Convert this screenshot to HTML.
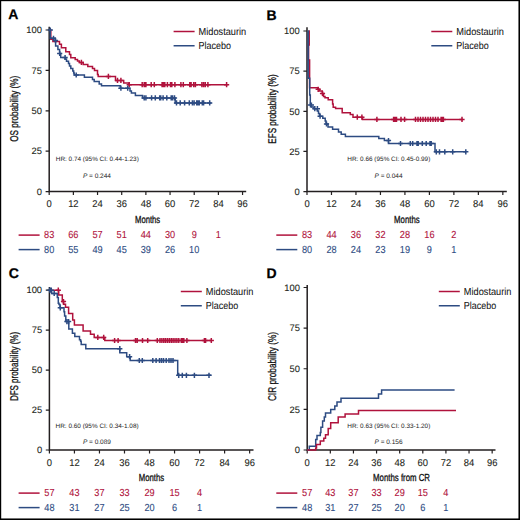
<!DOCTYPE html><html><head><meta charset="utf-8"><style>html,body{margin:0;padding:0;background:#fff;}svg{display:block;}text{font-family:"Liberation Sans",sans-serif;text-rendering:geometricPrecision;}</style></head><body>
<svg width="520" height="520" viewBox="0 0 520 520">
<rect x="0" y="0" width="520" height="520" fill="#fff"/>
<text x="8.3" y="19" font-size="14" text-anchor="start" fill="#000" font-weight="bold" font-style="normal" stroke="#000" stroke-width="0.25">A</text>
<path d="M49.2,26.8 V191.6 H246.2" fill="none" stroke="#231f20" stroke-width="1.5"/>
<text transform="translate(41.900000000000006 194.80) scale(1.0 1)" font-size="9.4" text-anchor="end" fill="#231f20" font-weight="normal" font-style="normal" stroke="#231f20" stroke-width="0.1">0</text>
<text transform="translate(41.900000000000006 154.40) scale(1.0 1)" font-size="9.4" text-anchor="end" fill="#231f20" font-weight="normal" font-style="normal" stroke="#231f20" stroke-width="0.1">25</text>
<text transform="translate(41.900000000000006 114.00) scale(1.0 1)" font-size="9.4" text-anchor="end" fill="#231f20" font-weight="normal" font-style="normal" stroke="#231f20" stroke-width="0.1">50</text>
<text transform="translate(41.900000000000006 73.60) scale(1.0 1)" font-size="9.4" text-anchor="end" fill="#231f20" font-weight="normal" font-style="normal" stroke="#231f20" stroke-width="0.1">75</text>
<text transform="translate(41.900000000000006 33.20) scale(1.0 1)" font-size="9.4" text-anchor="end" fill="#231f20" font-weight="normal" font-style="normal" stroke="#231f20" stroke-width="0.1">100</text>
<text transform="translate(49.20 207.3) scale(0.96 1)" font-size="9.8" text-anchor="middle" fill="#231f20" font-weight="normal" font-style="normal" stroke="#231f20" stroke-width="0.1">0</text>
<text transform="translate(73.37 207.3) scale(0.96 1)" font-size="9.8" text-anchor="middle" fill="#231f20" font-weight="normal" font-style="normal" stroke="#231f20" stroke-width="0.1">12</text>
<text transform="translate(97.54 207.3) scale(0.96 1)" font-size="9.8" text-anchor="middle" fill="#231f20" font-weight="normal" font-style="normal" stroke="#231f20" stroke-width="0.1">24</text>
<text transform="translate(121.71 207.3) scale(0.96 1)" font-size="9.8" text-anchor="middle" fill="#231f20" font-weight="normal" font-style="normal" stroke="#231f20" stroke-width="0.1">36</text>
<text transform="translate(145.88 207.3) scale(0.96 1)" font-size="9.8" text-anchor="middle" fill="#231f20" font-weight="normal" font-style="normal" stroke="#231f20" stroke-width="0.1">48</text>
<text transform="translate(170.05 207.3) scale(0.96 1)" font-size="9.8" text-anchor="middle" fill="#231f20" font-weight="normal" font-style="normal" stroke="#231f20" stroke-width="0.1">60</text>
<text transform="translate(194.22 207.3) scale(0.96 1)" font-size="9.8" text-anchor="middle" fill="#231f20" font-weight="normal" font-style="normal" stroke="#231f20" stroke-width="0.1">72</text>
<text transform="translate(218.39 207.3) scale(0.96 1)" font-size="9.8" text-anchor="middle" fill="#231f20" font-weight="normal" font-style="normal" stroke="#231f20" stroke-width="0.1">84</text>
<text transform="translate(242.56 207.3) scale(0.96 1)" font-size="9.8" text-anchor="middle" fill="#231f20" font-weight="normal" font-style="normal" stroke="#231f20" stroke-width="0.1">96</text>
<path d="M45.6,191.60H49.2 M45.6,151.20H49.2 M45.6,110.80H49.2 M45.6,70.40H49.2 M45.6,30.00H49.2 M49.20,191.6V195.1 M73.37,191.6V195.1 M97.54,191.6V195.1 M121.71,191.6V195.1 M145.88,191.6V195.1 M170.05,191.6V195.1 M194.22,191.6V195.1 M218.39,191.6V195.1 M242.56,191.6V195.1" fill="none" stroke="#231f20" stroke-width="1.2"/>
<text x="135" y="223.0" font-size="10.2" text-anchor="start" fill="#111" font-weight="normal" font-style="normal" textLength="25.2" lengthAdjust="spacingAndGlyphs" stroke="#111" stroke-width="0.3">Months</text>
<g transform="translate(18.10 108.8) rotate(-90)">
<text x="0" y="0" font-size="11.2" text-anchor="middle" fill="#111" font-weight="normal" font-style="normal" textLength="66" lengthAdjust="spacingAndGlyphs" stroke="#111" stroke-width="0.3">OS probability (%)</text>
</g>
<path d="M173.6,31.5h21" stroke="#b0123c" stroke-width="1.5"/>
<path d="M173.6,45.75h21" stroke="#2d4b82" stroke-width="1.5"/>
<text transform="translate(198.6 35.1) scale(0.895 1)" font-size="10.3" text-anchor="start" fill="#111" font-weight="normal" font-style="normal" stroke="#111" stroke-width="0.05">Midostaurin</text>
<text transform="translate(198.6 49.35) scale(0.87 1)" font-size="10.3" text-anchor="start" fill="#111" font-weight="normal" font-style="normal" stroke="#111" stroke-width="0.05">Placebo</text>
<text x="55.8" y="160.6" font-size="6.3" text-anchor="start" fill="#222" font-weight="normal" font-style="normal" textLength="83" lengthAdjust="spacingAndGlyphs">HR: 0.74 (95% CI: 0.44-1.23)</text>
<text x="82.9" y="177.7" font-size="6.5" fill="#222"><tspan font-style="italic">P</tspan> = 0.244</text>
<path d="M18.6,235.1h21" stroke="#b0123c" stroke-width="1.5"/>
<path d="M18.6,249.6h21" stroke="#2d4b82" stroke-width="1.5"/>
<text transform="translate(49.20 238.1) scale(0.9 1)" font-size="10.2" text-anchor="middle" fill="#b0123c" font-weight="normal" font-style="normal" stroke="#b0123c" stroke-width="0.1">83</text>
<text transform="translate(73.37 238.1) scale(0.9 1)" font-size="10.2" text-anchor="middle" fill="#b0123c" font-weight="normal" font-style="normal" stroke="#b0123c" stroke-width="0.1">66</text>
<text transform="translate(97.54 238.1) scale(0.9 1)" font-size="10.2" text-anchor="middle" fill="#b0123c" font-weight="normal" font-style="normal" stroke="#b0123c" stroke-width="0.1">57</text>
<text transform="translate(121.71 238.1) scale(0.9 1)" font-size="10.2" text-anchor="middle" fill="#b0123c" font-weight="normal" font-style="normal" stroke="#b0123c" stroke-width="0.1">51</text>
<text transform="translate(145.88 238.1) scale(0.9 1)" font-size="10.2" text-anchor="middle" fill="#b0123c" font-weight="normal" font-style="normal" stroke="#b0123c" stroke-width="0.1">44</text>
<text transform="translate(170.05 238.1) scale(0.9 1)" font-size="10.2" text-anchor="middle" fill="#b0123c" font-weight="normal" font-style="normal" stroke="#b0123c" stroke-width="0.1">30</text>
<text transform="translate(194.22 238.1) scale(0.9 1)" font-size="10.2" text-anchor="middle" fill="#b0123c" font-weight="normal" font-style="normal" stroke="#b0123c" stroke-width="0.1">9</text>
<text transform="translate(218.39 238.1) scale(0.9 1)" font-size="10.2" text-anchor="middle" fill="#b0123c" font-weight="normal" font-style="normal" stroke="#b0123c" stroke-width="0.1">1</text>
<text transform="translate(49.20 252.6) scale(0.9 1)" font-size="10.2" text-anchor="middle" fill="#2d4b82" font-weight="normal" font-style="normal" stroke="#2d4b82" stroke-width="0.1">80</text>
<text transform="translate(73.37 252.6) scale(0.9 1)" font-size="10.2" text-anchor="middle" fill="#2d4b82" font-weight="normal" font-style="normal" stroke="#2d4b82" stroke-width="0.1">55</text>
<text transform="translate(97.54 252.6) scale(0.9 1)" font-size="10.2" text-anchor="middle" fill="#2d4b82" font-weight="normal" font-style="normal" stroke="#2d4b82" stroke-width="0.1">49</text>
<text transform="translate(121.71 252.6) scale(0.9 1)" font-size="10.2" text-anchor="middle" fill="#2d4b82" font-weight="normal" font-style="normal" stroke="#2d4b82" stroke-width="0.1">45</text>
<text transform="translate(145.88 252.6) scale(0.9 1)" font-size="10.2" text-anchor="middle" fill="#2d4b82" font-weight="normal" font-style="normal" stroke="#2d4b82" stroke-width="0.1">39</text>
<text transform="translate(170.05 252.6) scale(0.9 1)" font-size="10.2" text-anchor="middle" fill="#2d4b82" font-weight="normal" font-style="normal" stroke="#2d4b82" stroke-width="0.1">26</text>
<text transform="translate(194.22 252.6) scale(0.9 1)" font-size="10.2" text-anchor="middle" fill="#2d4b82" font-weight="normal" font-style="normal" stroke="#2d4b82" stroke-width="0.1">10</text>
<text x="266.6" y="19.5" font-size="14" text-anchor="start" fill="#000" font-weight="bold" font-style="normal" stroke="#000" stroke-width="0.25">B</text>
<path d="M307,27.3 V191.6 H506.8" fill="none" stroke="#231f20" stroke-width="1.5"/>
<text transform="translate(299.7 194.80) scale(1.0 1)" font-size="9.4" text-anchor="end" fill="#231f20" font-weight="normal" font-style="normal" stroke="#231f20" stroke-width="0.1">0</text>
<text transform="translate(299.7 154.65) scale(1.0 1)" font-size="9.4" text-anchor="end" fill="#231f20" font-weight="normal" font-style="normal" stroke="#231f20" stroke-width="0.1">25</text>
<text transform="translate(299.7 114.50) scale(1.0 1)" font-size="9.4" text-anchor="end" fill="#231f20" font-weight="normal" font-style="normal" stroke="#231f20" stroke-width="0.1">50</text>
<text transform="translate(299.7 74.35) scale(1.0 1)" font-size="9.4" text-anchor="end" fill="#231f20" font-weight="normal" font-style="normal" stroke="#231f20" stroke-width="0.1">75</text>
<text transform="translate(299.7 34.20) scale(1.0 1)" font-size="9.4" text-anchor="end" fill="#231f20" font-weight="normal" font-style="normal" stroke="#231f20" stroke-width="0.1">100</text>
<text transform="translate(307.00 207.3) scale(0.96 1)" font-size="9.8" text-anchor="middle" fill="#231f20" font-weight="normal" font-style="normal" stroke="#231f20" stroke-width="0.1">0</text>
<text transform="translate(331.48 207.3) scale(0.96 1)" font-size="9.8" text-anchor="middle" fill="#231f20" font-weight="normal" font-style="normal" stroke="#231f20" stroke-width="0.1">12</text>
<text transform="translate(355.96 207.3) scale(0.96 1)" font-size="9.8" text-anchor="middle" fill="#231f20" font-weight="normal" font-style="normal" stroke="#231f20" stroke-width="0.1">24</text>
<text transform="translate(380.44 207.3) scale(0.96 1)" font-size="9.8" text-anchor="middle" fill="#231f20" font-weight="normal" font-style="normal" stroke="#231f20" stroke-width="0.1">36</text>
<text transform="translate(404.92 207.3) scale(0.96 1)" font-size="9.8" text-anchor="middle" fill="#231f20" font-weight="normal" font-style="normal" stroke="#231f20" stroke-width="0.1">48</text>
<text transform="translate(429.40 207.3) scale(0.96 1)" font-size="9.8" text-anchor="middle" fill="#231f20" font-weight="normal" font-style="normal" stroke="#231f20" stroke-width="0.1">60</text>
<text transform="translate(453.88 207.3) scale(0.96 1)" font-size="9.8" text-anchor="middle" fill="#231f20" font-weight="normal" font-style="normal" stroke="#231f20" stroke-width="0.1">72</text>
<text transform="translate(478.36 207.3) scale(0.96 1)" font-size="9.8" text-anchor="middle" fill="#231f20" font-weight="normal" font-style="normal" stroke="#231f20" stroke-width="0.1">84</text>
<text transform="translate(502.84 207.3) scale(0.96 1)" font-size="9.8" text-anchor="middle" fill="#231f20" font-weight="normal" font-style="normal" stroke="#231f20" stroke-width="0.1">96</text>
<path d="M303.4,191.60H307 M303.4,151.45H307 M303.4,111.30H307 M303.4,71.15H307 M303.4,31.00H307 M307.00,191.6V195.1 M331.48,191.6V195.1 M355.96,191.6V195.1 M380.44,191.6V195.1 M404.92,191.6V195.1 M429.40,191.6V195.1 M453.88,191.6V195.1 M478.36,191.6V195.1 M502.84,191.6V195.1" fill="none" stroke="#231f20" stroke-width="1.2"/>
<text x="394.1" y="223.0" font-size="10.2" text-anchor="start" fill="#111" font-weight="normal" font-style="normal" textLength="25.5" lengthAdjust="spacingAndGlyphs" stroke="#111" stroke-width="0.3">Months</text>
<g transform="translate(275.90 109) rotate(-90)">
<text x="0" y="0" font-size="11.2" text-anchor="middle" fill="#111" font-weight="normal" font-style="normal" textLength="69.3" lengthAdjust="spacingAndGlyphs" stroke="#111" stroke-width="0.3">EFS probability (%)</text>
</g>
<path d="M431.3,31.5h21" stroke="#b0123c" stroke-width="1.5"/>
<path d="M431.3,45.75h21" stroke="#2d4b82" stroke-width="1.5"/>
<text transform="translate(456.3 35.1) scale(0.895 1)" font-size="10.3" text-anchor="start" fill="#111" font-weight="normal" font-style="normal" stroke="#111" stroke-width="0.05">Midostaurin</text>
<text transform="translate(456.3 49.35) scale(0.87 1)" font-size="10.3" text-anchor="start" fill="#111" font-weight="normal" font-style="normal" stroke="#111" stroke-width="0.05">Placebo</text>
<text x="347.3" y="160.6" font-size="6.3" text-anchor="start" fill="#222" font-weight="normal" font-style="normal" textLength="83" lengthAdjust="spacingAndGlyphs">HR: 0.66 (95% CI: 0.45-0.99)</text>
<text x="374.5" y="177.7" font-size="6.5" fill="#222"><tspan font-style="italic">P</tspan> = 0.044</text>
<path d="M276.3,235.1h21" stroke="#b0123c" stroke-width="1.5"/>
<path d="M276.3,249.6h21" stroke="#2d4b82" stroke-width="1.5"/>
<text transform="translate(307.00 238.1) scale(0.9 1)" font-size="10.2" text-anchor="middle" fill="#b0123c" font-weight="normal" font-style="normal" stroke="#b0123c" stroke-width="0.1">83</text>
<text transform="translate(331.48 238.1) scale(0.9 1)" font-size="10.2" text-anchor="middle" fill="#b0123c" font-weight="normal" font-style="normal" stroke="#b0123c" stroke-width="0.1">44</text>
<text transform="translate(355.96 238.1) scale(0.9 1)" font-size="10.2" text-anchor="middle" fill="#b0123c" font-weight="normal" font-style="normal" stroke="#b0123c" stroke-width="0.1">36</text>
<text transform="translate(380.44 238.1) scale(0.9 1)" font-size="10.2" text-anchor="middle" fill="#b0123c" font-weight="normal" font-style="normal" stroke="#b0123c" stroke-width="0.1">32</text>
<text transform="translate(404.92 238.1) scale(0.9 1)" font-size="10.2" text-anchor="middle" fill="#b0123c" font-weight="normal" font-style="normal" stroke="#b0123c" stroke-width="0.1">28</text>
<text transform="translate(429.40 238.1) scale(0.9 1)" font-size="10.2" text-anchor="middle" fill="#b0123c" font-weight="normal" font-style="normal" stroke="#b0123c" stroke-width="0.1">16</text>
<text transform="translate(453.88 238.1) scale(0.9 1)" font-size="10.2" text-anchor="middle" fill="#b0123c" font-weight="normal" font-style="normal" stroke="#b0123c" stroke-width="0.1">2</text>
<text transform="translate(307.00 252.6) scale(0.9 1)" font-size="10.2" text-anchor="middle" fill="#2d4b82" font-weight="normal" font-style="normal" stroke="#2d4b82" stroke-width="0.1">80</text>
<text transform="translate(331.48 252.6) scale(0.9 1)" font-size="10.2" text-anchor="middle" fill="#2d4b82" font-weight="normal" font-style="normal" stroke="#2d4b82" stroke-width="0.1">28</text>
<text transform="translate(355.96 252.6) scale(0.9 1)" font-size="10.2" text-anchor="middle" fill="#2d4b82" font-weight="normal" font-style="normal" stroke="#2d4b82" stroke-width="0.1">24</text>
<text transform="translate(380.44 252.6) scale(0.9 1)" font-size="10.2" text-anchor="middle" fill="#2d4b82" font-weight="normal" font-style="normal" stroke="#2d4b82" stroke-width="0.1">23</text>
<text transform="translate(404.92 252.6) scale(0.9 1)" font-size="10.2" text-anchor="middle" fill="#2d4b82" font-weight="normal" font-style="normal" stroke="#2d4b82" stroke-width="0.1">19</text>
<text transform="translate(429.40 252.6) scale(0.9 1)" font-size="10.2" text-anchor="middle" fill="#2d4b82" font-weight="normal" font-style="normal" stroke="#2d4b82" stroke-width="0.1">9</text>
<text transform="translate(453.88 252.6) scale(0.9 1)" font-size="10.2" text-anchor="middle" fill="#2d4b82" font-weight="normal" font-style="normal" stroke="#2d4b82" stroke-width="0.1">1</text>
<text x="8.8" y="278.3" font-size="14" text-anchor="start" fill="#000" font-weight="bold" font-style="normal" stroke="#000" stroke-width="0.25">C</text>
<path d="M49.4,287 V450 H253.5" fill="none" stroke="#231f20" stroke-width="1.5"/>
<text transform="translate(42.1 453.20) scale(1.0 1)" font-size="9.4" text-anchor="end" fill="#231f20" font-weight="normal" font-style="normal" stroke="#231f20" stroke-width="0.1">0</text>
<text transform="translate(42.1 413.25) scale(1.0 1)" font-size="9.4" text-anchor="end" fill="#231f20" font-weight="normal" font-style="normal" stroke="#231f20" stroke-width="0.1">25</text>
<text transform="translate(42.1 373.30) scale(1.0 1)" font-size="9.4" text-anchor="end" fill="#231f20" font-weight="normal" font-style="normal" stroke="#231f20" stroke-width="0.1">50</text>
<text transform="translate(42.1 333.35) scale(1.0 1)" font-size="9.4" text-anchor="end" fill="#231f20" font-weight="normal" font-style="normal" stroke="#231f20" stroke-width="0.1">75</text>
<text transform="translate(42.1 293.40) scale(1.0 1)" font-size="9.4" text-anchor="end" fill="#231f20" font-weight="normal" font-style="normal" stroke="#231f20" stroke-width="0.1">100</text>
<text transform="translate(49.40 465.7) scale(0.96 1)" font-size="9.8" text-anchor="middle" fill="#231f20" font-weight="normal" font-style="normal" stroke="#231f20" stroke-width="0.1">0</text>
<text transform="translate(74.43 465.7) scale(0.96 1)" font-size="9.8" text-anchor="middle" fill="#231f20" font-weight="normal" font-style="normal" stroke="#231f20" stroke-width="0.1">12</text>
<text transform="translate(99.46 465.7) scale(0.96 1)" font-size="9.8" text-anchor="middle" fill="#231f20" font-weight="normal" font-style="normal" stroke="#231f20" stroke-width="0.1">24</text>
<text transform="translate(124.49 465.7) scale(0.96 1)" font-size="9.8" text-anchor="middle" fill="#231f20" font-weight="normal" font-style="normal" stroke="#231f20" stroke-width="0.1">36</text>
<text transform="translate(149.52 465.7) scale(0.96 1)" font-size="9.8" text-anchor="middle" fill="#231f20" font-weight="normal" font-style="normal" stroke="#231f20" stroke-width="0.1">48</text>
<text transform="translate(174.55 465.7) scale(0.96 1)" font-size="9.8" text-anchor="middle" fill="#231f20" font-weight="normal" font-style="normal" stroke="#231f20" stroke-width="0.1">60</text>
<text transform="translate(199.58 465.7) scale(0.96 1)" font-size="9.8" text-anchor="middle" fill="#231f20" font-weight="normal" font-style="normal" stroke="#231f20" stroke-width="0.1">72</text>
<text transform="translate(224.61 465.7) scale(0.96 1)" font-size="9.8" text-anchor="middle" fill="#231f20" font-weight="normal" font-style="normal" stroke="#231f20" stroke-width="0.1">84</text>
<text transform="translate(249.64 465.7) scale(0.96 1)" font-size="9.8" text-anchor="middle" fill="#231f20" font-weight="normal" font-style="normal" stroke="#231f20" stroke-width="0.1">96</text>
<path d="M45.8,450.00H49.4 M45.8,410.05H49.4 M45.8,370.10H49.4 M45.8,330.15H49.4 M45.8,290.20H49.4 M49.40,450V453.5 M74.43,450V453.5 M99.46,450V453.5 M124.49,450V453.5 M149.52,450V453.5 M174.55,450V453.5 M199.58,450V453.5 M224.61,450V453.5 M249.64,450V453.5" fill="none" stroke="#231f20" stroke-width="1.2"/>
<text x="138.8" y="481.4" font-size="10.2" text-anchor="start" fill="#111" font-weight="normal" font-style="normal" textLength="25.4" lengthAdjust="spacingAndGlyphs" stroke="#111" stroke-width="0.3">Months</text>
<g transform="translate(18.30 366.5) rotate(-90)">
<text x="0" y="0" font-size="11.2" text-anchor="middle" fill="#111" font-weight="normal" font-style="normal" textLength="69.2" lengthAdjust="spacingAndGlyphs" stroke="#111" stroke-width="0.3">DFS probability (%)</text>
</g>
<path d="M180.8,291.5h21" stroke="#b0123c" stroke-width="1.5"/>
<path d="M180.8,305.75h21" stroke="#2d4b82" stroke-width="1.5"/>
<text transform="translate(205.8 295.1) scale(0.895 1)" font-size="10.3" text-anchor="start" fill="#111" font-weight="normal" font-style="normal" stroke="#111" stroke-width="0.05">Midostaurin</text>
<text transform="translate(205.8 309.35) scale(0.87 1)" font-size="10.3" text-anchor="start" fill="#111" font-weight="normal" font-style="normal" stroke="#111" stroke-width="0.05">Placebo</text>
<text x="55.6" y="427.5" font-size="6.3" text-anchor="start" fill="#222" font-weight="normal" font-style="normal" textLength="83" lengthAdjust="spacingAndGlyphs">HR: 0.60 (95% CI: 0.34-1.08)</text>
<text x="82.9" y="444" font-size="6.5" fill="#222"><tspan font-style="italic">P</tspan> = 0.089</text>
<path d="M18.6,493.1h21" stroke="#b0123c" stroke-width="1.5"/>
<path d="M18.6,507.6h21" stroke="#2d4b82" stroke-width="1.5"/>
<text transform="translate(49.40 496.1) scale(0.9 1)" font-size="10.2" text-anchor="middle" fill="#b0123c" font-weight="normal" font-style="normal" stroke="#b0123c" stroke-width="0.1">57</text>
<text transform="translate(74.43 496.1) scale(0.9 1)" font-size="10.2" text-anchor="middle" fill="#b0123c" font-weight="normal" font-style="normal" stroke="#b0123c" stroke-width="0.1">43</text>
<text transform="translate(99.46 496.1) scale(0.9 1)" font-size="10.2" text-anchor="middle" fill="#b0123c" font-weight="normal" font-style="normal" stroke="#b0123c" stroke-width="0.1">37</text>
<text transform="translate(124.49 496.1) scale(0.9 1)" font-size="10.2" text-anchor="middle" fill="#b0123c" font-weight="normal" font-style="normal" stroke="#b0123c" stroke-width="0.1">33</text>
<text transform="translate(149.52 496.1) scale(0.9 1)" font-size="10.2" text-anchor="middle" fill="#b0123c" font-weight="normal" font-style="normal" stroke="#b0123c" stroke-width="0.1">29</text>
<text transform="translate(174.55 496.1) scale(0.9 1)" font-size="10.2" text-anchor="middle" fill="#b0123c" font-weight="normal" font-style="normal" stroke="#b0123c" stroke-width="0.1">15</text>
<text transform="translate(199.58 496.1) scale(0.9 1)" font-size="10.2" text-anchor="middle" fill="#b0123c" font-weight="normal" font-style="normal" stroke="#b0123c" stroke-width="0.1">4</text>
<text transform="translate(49.40 510.6) scale(0.9 1)" font-size="10.2" text-anchor="middle" fill="#2d4b82" font-weight="normal" font-style="normal" stroke="#2d4b82" stroke-width="0.1">48</text>
<text transform="translate(74.43 510.6) scale(0.9 1)" font-size="10.2" text-anchor="middle" fill="#2d4b82" font-weight="normal" font-style="normal" stroke="#2d4b82" stroke-width="0.1">31</text>
<text transform="translate(99.46 510.6) scale(0.9 1)" font-size="10.2" text-anchor="middle" fill="#2d4b82" font-weight="normal" font-style="normal" stroke="#2d4b82" stroke-width="0.1">27</text>
<text transform="translate(124.49 510.6) scale(0.9 1)" font-size="10.2" text-anchor="middle" fill="#2d4b82" font-weight="normal" font-style="normal" stroke="#2d4b82" stroke-width="0.1">25</text>
<text transform="translate(149.52 510.6) scale(0.9 1)" font-size="10.2" text-anchor="middle" fill="#2d4b82" font-weight="normal" font-style="normal" stroke="#2d4b82" stroke-width="0.1">20</text>
<text transform="translate(174.55 510.6) scale(0.9 1)" font-size="10.2" text-anchor="middle" fill="#2d4b82" font-weight="normal" font-style="normal" stroke="#2d4b82" stroke-width="0.1">6</text>
<text transform="translate(199.58 510.6) scale(0.9 1)" font-size="10.2" text-anchor="middle" fill="#2d4b82" font-weight="normal" font-style="normal" stroke="#2d4b82" stroke-width="0.1">1</text>
<text x="266.6" y="278.3" font-size="14" text-anchor="start" fill="#000" font-weight="bold" font-style="normal" stroke="#000" stroke-width="0.25">D</text>
<path d="M307.2,285 V450 H495.5" fill="none" stroke="#231f20" stroke-width="1.5"/>
<text transform="translate(299.9 453.20) scale(1.0 1)" font-size="9.4" text-anchor="end" fill="#231f20" font-weight="normal" font-style="normal" stroke="#231f20" stroke-width="0.1">0</text>
<text transform="translate(299.9 412.57) scale(1.0 1)" font-size="9.4" text-anchor="end" fill="#231f20" font-weight="normal" font-style="normal" stroke="#231f20" stroke-width="0.1">25</text>
<text transform="translate(299.9 371.95) scale(1.0 1)" font-size="9.4" text-anchor="end" fill="#231f20" font-weight="normal" font-style="normal" stroke="#231f20" stroke-width="0.1">50</text>
<text transform="translate(299.9 331.32) scale(1.0 1)" font-size="9.4" text-anchor="end" fill="#231f20" font-weight="normal" font-style="normal" stroke="#231f20" stroke-width="0.1">75</text>
<text transform="translate(299.9 290.70) scale(1.0 1)" font-size="9.4" text-anchor="end" fill="#231f20" font-weight="normal" font-style="normal" stroke="#231f20" stroke-width="0.1">100</text>
<text transform="translate(307.20 465.7) scale(0.96 1)" font-size="9.8" text-anchor="middle" fill="#231f20" font-weight="normal" font-style="normal" stroke="#231f20" stroke-width="0.1">0</text>
<text transform="translate(330.32 465.7) scale(0.96 1)" font-size="9.8" text-anchor="middle" fill="#231f20" font-weight="normal" font-style="normal" stroke="#231f20" stroke-width="0.1">12</text>
<text transform="translate(353.44 465.7) scale(0.96 1)" font-size="9.8" text-anchor="middle" fill="#231f20" font-weight="normal" font-style="normal" stroke="#231f20" stroke-width="0.1">24</text>
<text transform="translate(376.56 465.7) scale(0.96 1)" font-size="9.8" text-anchor="middle" fill="#231f20" font-weight="normal" font-style="normal" stroke="#231f20" stroke-width="0.1">36</text>
<text transform="translate(399.68 465.7) scale(0.96 1)" font-size="9.8" text-anchor="middle" fill="#231f20" font-weight="normal" font-style="normal" stroke="#231f20" stroke-width="0.1">48</text>
<text transform="translate(422.80 465.7) scale(0.96 1)" font-size="9.8" text-anchor="middle" fill="#231f20" font-weight="normal" font-style="normal" stroke="#231f20" stroke-width="0.1">60</text>
<text transform="translate(445.92 465.7) scale(0.96 1)" font-size="9.8" text-anchor="middle" fill="#231f20" font-weight="normal" font-style="normal" stroke="#231f20" stroke-width="0.1">72</text>
<text transform="translate(469.04 465.7) scale(0.96 1)" font-size="9.8" text-anchor="middle" fill="#231f20" font-weight="normal" font-style="normal" stroke="#231f20" stroke-width="0.1">84</text>
<text transform="translate(492.16 465.7) scale(0.96 1)" font-size="9.8" text-anchor="middle" fill="#231f20" font-weight="normal" font-style="normal" stroke="#231f20" stroke-width="0.1">96</text>
<path d="M303.59999999999997,450.00H307.2 M303.59999999999997,409.38H307.2 M303.59999999999997,368.75H307.2 M303.59999999999997,328.12H307.2 M303.59999999999997,287.50H307.2 M307.20,450V453.5 M330.32,450V453.5 M353.44,450V453.5 M376.56,450V453.5 M399.68,450V453.5 M422.80,450V453.5 M445.92,450V453.5 M469.04,450V453.5 M492.16,450V453.5" fill="none" stroke="#231f20" stroke-width="1.2"/>
<text x="373.1" y="481.4" font-size="10.2" text-anchor="start" fill="#111" font-weight="normal" font-style="normal" textLength="56.9" lengthAdjust="spacingAndGlyphs" stroke="#111" stroke-width="0.3">Months from CR</text>
<g transform="translate(276.10 366.5) rotate(-90)">
<text x="0" y="0" font-size="11.2" text-anchor="middle" fill="#111" font-weight="normal" font-style="normal" textLength="69.2" lengthAdjust="spacingAndGlyphs" stroke="#111" stroke-width="0.3">CIR probability (%)</text>
</g>
<path d="M438.8,291.5h21" stroke="#b0123c" stroke-width="1.5"/>
<path d="M438.8,305.75h21" stroke="#2d4b82" stroke-width="1.5"/>
<text transform="translate(463.8 295.1) scale(0.895 1)" font-size="10.3" text-anchor="start" fill="#111" font-weight="normal" font-style="normal" stroke="#111" stroke-width="0.05">Midostaurin</text>
<text transform="translate(463.8 309.35) scale(0.87 1)" font-size="10.3" text-anchor="start" fill="#111" font-weight="normal" font-style="normal" stroke="#111" stroke-width="0.05">Placebo</text>
<text x="347.3" y="427.5" font-size="6.3" text-anchor="start" fill="#222" font-weight="normal" font-style="normal" textLength="83" lengthAdjust="spacingAndGlyphs">HR: 0.63 (95% CI: 0.33-1.20)</text>
<text x="374.5" y="444" font-size="6.5" fill="#222"><tspan font-style="italic">P</tspan> = 0.156</text>
<path d="M276.3,493.1h21" stroke="#b0123c" stroke-width="1.5"/>
<path d="M276.3,507.6h21" stroke="#2d4b82" stroke-width="1.5"/>
<text transform="translate(307.20 496.1) scale(0.9 1)" font-size="10.2" text-anchor="middle" fill="#b0123c" font-weight="normal" font-style="normal" stroke="#b0123c" stroke-width="0.1">57</text>
<text transform="translate(330.32 496.1) scale(0.9 1)" font-size="10.2" text-anchor="middle" fill="#b0123c" font-weight="normal" font-style="normal" stroke="#b0123c" stroke-width="0.1">43</text>
<text transform="translate(353.44 496.1) scale(0.9 1)" font-size="10.2" text-anchor="middle" fill="#b0123c" font-weight="normal" font-style="normal" stroke="#b0123c" stroke-width="0.1">37</text>
<text transform="translate(376.56 496.1) scale(0.9 1)" font-size="10.2" text-anchor="middle" fill="#b0123c" font-weight="normal" font-style="normal" stroke="#b0123c" stroke-width="0.1">33</text>
<text transform="translate(399.68 496.1) scale(0.9 1)" font-size="10.2" text-anchor="middle" fill="#b0123c" font-weight="normal" font-style="normal" stroke="#b0123c" stroke-width="0.1">29</text>
<text transform="translate(422.80 496.1) scale(0.9 1)" font-size="10.2" text-anchor="middle" fill="#b0123c" font-weight="normal" font-style="normal" stroke="#b0123c" stroke-width="0.1">15</text>
<text transform="translate(445.92 496.1) scale(0.9 1)" font-size="10.2" text-anchor="middle" fill="#b0123c" font-weight="normal" font-style="normal" stroke="#b0123c" stroke-width="0.1">4</text>
<text transform="translate(307.20 510.6) scale(0.9 1)" font-size="10.2" text-anchor="middle" fill="#2d4b82" font-weight="normal" font-style="normal" stroke="#2d4b82" stroke-width="0.1">48</text>
<text transform="translate(330.32 510.6) scale(0.9 1)" font-size="10.2" text-anchor="middle" fill="#2d4b82" font-weight="normal" font-style="normal" stroke="#2d4b82" stroke-width="0.1">31</text>
<text transform="translate(353.44 510.6) scale(0.9 1)" font-size="10.2" text-anchor="middle" fill="#2d4b82" font-weight="normal" font-style="normal" stroke="#2d4b82" stroke-width="0.1">27</text>
<text transform="translate(376.56 510.6) scale(0.9 1)" font-size="10.2" text-anchor="middle" fill="#2d4b82" font-weight="normal" font-style="normal" stroke="#2d4b82" stroke-width="0.1">25</text>
<text transform="translate(399.68 510.6) scale(0.9 1)" font-size="10.2" text-anchor="middle" fill="#2d4b82" font-weight="normal" font-style="normal" stroke="#2d4b82" stroke-width="0.1">20</text>
<text transform="translate(422.80 510.6) scale(0.9 1)" font-size="10.2" text-anchor="middle" fill="#2d4b82" font-weight="normal" font-style="normal" stroke="#2d4b82" stroke-width="0.1">6</text>
<text transform="translate(445.92 510.6) scale(0.9 1)" font-size="10.2" text-anchor="middle" fill="#2d4b82" font-weight="normal" font-style="normal" stroke="#2d4b82" stroke-width="0.1">1</text>
<path d="M49.2,30 L50.8,30 L50.8,39.2 L52.9,39.2 L52.9,41.6 L59.5,41.6 L59.5,44.2 L61.4,44.2 L61.4,47.7 L65.8,47.7 L65.8,51.7 L69.5,51.7 L69.5,54.5 L70.8,54.5 L70.8,57.8 L75.2,57.8 L75.2,59.5 L77.5,59.5 L77.5,61 L79.3,61 L79.3,62.4 L83.2,62.4 L83.2,64.4 L87.8,64.4 L87.8,66.4 L92.5,66.4 L92.5,68.4 L94.5,68.4 L94.5,70.5 L97.5,70.5 L97.5,74.5 L98.2,74.5 L98.2,76.4 L115.5,76.4 L115.5,80.4 L123.7,80.4 L123.7,82.9 L129,82.9 L129,84.7 L227.4,84.7" fill="none" stroke="#b0123c" stroke-width="1.5" stroke-linejoin="miter"/>
<path d="M81.4,59.8V65.0M78.80000000000001,62.4H84.0 M108.4,73.80000000000001V79.0M105.80000000000001,76.4H111.0 M117.5,77.80000000000001V83.0M114.9,80.4H120.1 M120.9,77.80000000000001V83.0M118.30000000000001,80.4H123.5 M129.2,82.10000000000001V87.3M126.6,84.7H131.79999999999998 M142.2,82.10000000000001V87.3M139.6,84.7H144.79999999999998 M144.2,82.10000000000001V87.3M141.6,84.7H146.79999999999998 M145.2,82.10000000000001V87.3M142.6,84.7H147.79999999999998 M145.9,82.10000000000001V87.3M143.3,84.7H148.5 M151.2,82.10000000000001V87.3M148.6,84.7H153.79999999999998 M154.3,82.10000000000001V87.3M151.70000000000002,84.7H156.9 M162.1,82.10000000000001V87.3M159.5,84.7H164.7 M163.4,82.10000000000001V87.3M160.8,84.7H166.0 M164.8,82.10000000000001V87.3M162.20000000000002,84.7H167.4 M167.4,82.10000000000001V87.3M164.8,84.7H170.0 M170.5,82.10000000000001V87.3M167.9,84.7H173.1 M171.8,82.10000000000001V87.3M169.20000000000002,84.7H174.4 M174.9,82.10000000000001V87.3M172.3,84.7H177.5 M180.9,82.10000000000001V87.3M178.3,84.7H183.5 M183.3,82.10000000000001V87.3M180.70000000000002,84.7H185.9 M189.8,82.10000000000001V87.3M187.20000000000002,84.7H192.4 M191.1,82.10000000000001V87.3M188.5,84.7H193.7 M193.7,82.10000000000001V87.3M191.1,84.7H196.29999999999998 M195.4,82.10000000000001V87.3M192.8,84.7H198.0 M201.9,82.10000000000001V87.3M199.3,84.7H204.5 M203.6,82.10000000000001V87.3M201.0,84.7H206.2 M205.3,82.10000000000001V87.3M202.70000000000002,84.7H207.9 M207.9,82.10000000000001V87.3M205.3,84.7H210.5 M226.6,82.10000000000001V87.3M224.0,84.7H229.2" fill="none" stroke="#b0123c" stroke-width="1.5"/>
<path d="M49.2,30 L50.3,30 L50.3,38.3 L55.2,38.3 L55.2,40.5 L55.6,40.5 L55.6,46 L57.9,46 L57.9,49.5 L59.6,49.5 L59.6,53.5 L60.7,53.5 L60.7,57.5 L65.1,57.5 L65.1,59 L66.5,59 L66.5,61.2 L68.5,61.2 L68.5,63.5 L69.5,63.5 L69.5,66 L70.8,66 L70.8,68.5 L72.8,68.5 L72.8,71 L73.7,71 L73.7,73 L74.2,73 L74.2,75 L84.4,75 L84.4,77.2 L92.5,77.2 L92.5,79.6 L94.2,79.6 L94.2,81.6 L99.2,81.6 L99.2,84 L101.5,84 L101.5,85.8 L120.2,85.8 L120.2,88.2 L130,88.2 L130,91 L131.4,91 L131.4,93.1 L135.4,93.1 L135.4,95.5 L142.5,95.5 L142.5,97.9 L175.2,97.9 L175.2,102.9 L211.4,102.9" fill="none" stroke="#2d4b82" stroke-width="1.5" stroke-linejoin="miter"/>
<path d="M50.3,27.4V32.6M47.699999999999996,30H52.9 M53.5,35.699999999999996V40.9M50.9,38.3H56.1 M55.5,37.9V43.1M52.9,40.5H58.1 M59.7,50.9V56.1M57.1,53.5H62.300000000000004 M65.1,54.9V60.1M62.49999999999999,57.5H67.69999999999999 M76.2,72.4V77.6M73.60000000000001,75H78.8 M120.9,85.60000000000001V90.8M118.30000000000001,88.2H123.5 M127.7,85.60000000000001V90.8M125.10000000000001,88.2H130.3 M144.2,95.30000000000001V100.5M141.6,97.9H146.79999999999998 M145.9,95.30000000000001V100.5M143.3,97.9H148.5 M151.6,95.30000000000001V100.5M149.0,97.9H154.2 M155.3,95.30000000000001V100.5M152.70000000000002,97.9H157.9 M159.7,95.30000000000001V100.5M157.1,97.9H162.29999999999998 M160.7,95.30000000000001V100.5M158.1,97.9H163.29999999999998 M163.1,95.30000000000001V100.5M160.5,97.9H165.7 M166.8,95.30000000000001V100.5M164.20000000000002,97.9H169.4 M171.2,95.30000000000001V100.5M168.6,97.9H173.79999999999998 M172.5,95.30000000000001V100.5M169.9,97.9H175.1 M174.5,95.30000000000001V100.5M171.9,97.9H177.1 M176.5,100.30000000000001V105.5M173.9,102.9H179.1 M180.2,100.30000000000001V105.5M177.6,102.9H182.79999999999998 M184.6,100.30000000000001V105.5M182.0,102.9H187.2 M189.3,100.30000000000001V105.5M186.70000000000002,102.9H191.9 M192.4,100.30000000000001V105.5M189.8,102.9H195.0 M194.1,100.30000000000001V105.5M191.5,102.9H196.7 M196.7,100.30000000000001V105.5M194.1,102.9H199.29999999999998 M198,100.30000000000001V105.5M195.4,102.9H200.6 M199.3,100.30000000000001V105.5M196.70000000000002,102.9H201.9 M202.3,100.30000000000001V105.5M199.70000000000002,102.9H204.9 M203.6,100.30000000000001V105.5M201.0,102.9H206.2 M209.7,100.30000000000001V105.5M207.1,102.9H212.29999999999998" fill="none" stroke="#2d4b82" stroke-width="1.5"/>
<path d="M308.6,31 L309.2,31 L309.2,45 L308.6,45 L308.6,60 L309.6,60 L309.6,87.7 L317.8,87.7 L317.8,89.3 L319.5,89.3 L319.5,91.1 L322.3,91.1 L322.3,93.5 L323.5,93.5 L323.5,96.5 L325,96.5 L325,97.8 L328.2,97.8 L328.2,99.8 L332.6,99.8 L332.6,104 L333.2,104 L333.2,107.2 L335.6,107.2 L335.6,108.6 L342.2,108.6 L342.2,112.8 L350.3,112.8 L350.3,114.5 L353,114.5 L353,117.2 L362.5,117.2 L362.5,119.4 L463,119.4" fill="none" stroke="#b0123c" stroke-width="1.5" stroke-linejoin="miter"/>
<path d="M318.2,86.7V91.89999999999999M315.59999999999997,89.3H320.8 M322.5,90.9V96.1M319.9,93.5H325.1 M357.3,114.60000000000001V119.8M354.7,117.2H359.90000000000003 M361.9,114.60000000000001V119.8M359.29999999999995,117.2H364.5 M376.9,116.80000000000001V122.0M374.29999999999995,119.4H379.5 M393.6,116.80000000000001V122.0M391.0,119.4H396.20000000000005 M395,116.80000000000001V122.0M392.4,119.4H397.6 M396.5,116.80000000000001V122.0M393.9,119.4H399.1 M401,116.80000000000001V122.0M398.4,119.4H403.6 M404.6,116.80000000000001V122.0M402.0,119.4H407.20000000000005 M415.5,116.80000000000001V122.0M412.9,119.4H418.1 M418,116.80000000000001V122.0M415.4,119.4H420.6 M420.5,116.80000000000001V122.0M417.9,119.4H423.1 M423,116.80000000000001V122.0M420.4,119.4H425.6 M425.5,116.80000000000001V122.0M422.9,119.4H428.1 M428,116.80000000000001V122.0M425.4,119.4H430.6 M430.5,116.80000000000001V122.0M427.9,119.4H433.1 M433,116.80000000000001V122.0M430.4,119.4H435.6 M435.5,116.80000000000001V122.0M432.9,119.4H438.1 M438,116.80000000000001V122.0M435.4,119.4H440.6 M441.1,116.80000000000001V122.0M438.5,119.4H443.70000000000005 M442.3,116.80000000000001V122.0M439.7,119.4H444.90000000000003 M443.4,116.80000000000001V122.0M440.79999999999995,119.4H446.0 M462,116.80000000000001V122.0M459.4,119.4H464.6" fill="none" stroke="#b0123c" stroke-width="1.5"/>
<path d="M307.7,31 L308.2,31 L308.2,78.3 L309.7,78.3 L309.7,95 L310.3,95 L310.3,105 L311.5,105 L311.5,107.1 L314,107.1 L314,108.7 L317.4,108.7 L317.4,111 L318.5,111 L318.5,113.5 L319.5,113.5 L319.5,116.2 L322.8,116.2 L322.8,118.2 L325.2,118.2 L325.2,121 L326,121 L326,124 L328,124 L328,126.9 L332.6,126.9 L332.6,129.3 L338.5,129.3 L338.5,131.9 L341.2,131.9 L341.2,134.2 L345.4,134.2 L345.4,136.6 L378.8,136.6 L378.8,138.6 L384.4,138.6 L384.4,140.6 L388.5,140.6 L388.5,143.5 L435,143.5 L435,151.8 L466,151.8" fill="none" stroke="#2d4b82" stroke-width="1.5" stroke-linejoin="miter"/>
<path d="M310.5,102.4V107.6M307.9,105H313.1 M311.4,102.4V107.6M308.79999999999995,105H314.0 M314.8,106.10000000000001V111.3M312.2,108.7H317.40000000000003 M317.4,106.10000000000001V111.3M314.79999999999995,108.7H320.0 M320.1,113.60000000000001V118.8M317.5,116.2H322.70000000000005 M326.5,121.4V126.6M323.9,124H329.1 M388.5,138.0V143.2M385.9,140.6H391.1 M400.5,140.9V146.1M397.9,143.5H403.1 M410.3,140.9V146.1M407.7,143.5H412.90000000000003 M412.7,140.9V146.1M410.09999999999997,143.5H415.3 M417,140.9V146.1M414.4,143.5H419.6 M418.2,140.9V146.1M415.59999999999997,143.5H420.8 M422.3,140.9V146.1M419.7,143.5H424.90000000000003 M426.2,140.9V146.1M423.59999999999997,143.5H428.8 M430,140.9V146.1M427.4,143.5H432.6 M431.2,140.9V146.1M428.59999999999997,143.5H433.8 M436.3,149.20000000000002V154.4M433.7,151.8H438.90000000000003 M439.5,149.20000000000002V154.4M436.9,151.8H442.1 M444.8,149.20000000000002V154.4M442.2,151.8H447.40000000000003 M452.7,149.20000000000002V154.4M450.09999999999997,151.8H455.3 M465.8,149.20000000000002V154.4M463.2,151.8H468.40000000000003" fill="none" stroke="#2d4b82" stroke-width="1.5"/>
<path d="M49.4,290.2 L58.7,290.2 L58.7,295.1 L62.3,295.1 L62.3,301.5 L63.5,301.5 L63.5,304.3 L65.5,304.3 L65.5,307.2 L68.6,307.2 L68.6,313.6 L72.7,313.6 L72.7,319.9 L74.4,319.9 L74.4,325.1 L83.1,325.1 L83.1,331 L90.5,331 L90.5,334.2 L94.2,334.2 L94.2,337.4 L104.8,337.4 L104.8,340.5 L211.9,340.5" fill="none" stroke="#b0123c" stroke-width="1.5" stroke-linejoin="miter"/>
<path d="M58.3,287.59999999999997V292.8M55.699999999999996,290.2H60.9 M63.5,298.9V304.1M60.9,301.5H66.1 M97.8,334.79999999999995V340.0M95.2,337.4H100.39999999999999 M103.7,334.79999999999995V340.0M101.10000000000001,337.4H106.3 M114.6,337.9V343.1M112.0,340.5H117.19999999999999 M118.1,337.9V343.1M115.5,340.5H120.69999999999999 M135.5,337.9V343.1M132.9,340.5H138.1 M137.2,337.9V343.1M134.6,340.5H139.79999999999998 M142.5,337.9V343.1M139.9,340.5H145.1 M147.7,337.9V343.1M145.1,340.5H150.29999999999998 M157.3,337.9V343.1M154.70000000000002,340.5H159.9 M160,337.9V343.1M157.4,340.5H162.6 M161.9,337.9V343.1M159.3,340.5H164.5 M163.8,337.9V343.1M161.20000000000002,340.5H166.4 M165.6,337.9V343.1M163.0,340.5H168.2 M167.5,337.9V343.1M164.9,340.5H170.1 M169.4,337.9V343.1M166.8,340.5H172.0 M171.3,337.9V343.1M168.70000000000002,340.5H173.9 M173.1,337.9V343.1M170.5,340.5H175.7 M175,337.9V343.1M172.4,340.5H177.6 M176.9,337.9V343.1M174.3,340.5H179.5 M178.8,337.9V343.1M176.20000000000002,340.5H181.4 M181.3,337.9V343.1M178.70000000000002,340.5H183.9 M182.5,337.9V343.1M179.9,340.5H185.1 M183.8,337.9V343.1M181.20000000000002,340.5H186.4 M186.9,337.9V343.1M184.3,340.5H189.5 M204.4,337.9V343.1M201.8,340.5H207.0 M205.6,337.9V343.1M203.0,340.5H208.2 M211.3,337.9V343.1M208.70000000000002,340.5H213.9" fill="none" stroke="#b0123c" stroke-width="1.5"/>
<path d="M49.4,290.2 L51.6,290.2 L51.6,293.4 L57.3,293.4 L57.3,297.4 L58.3,297.4 L58.3,303.2 L59,303.2 L59,304.5 L60,304.5 L60,307.8 L64,307.8 L64,311.8 L64.6,311.8 L64.6,316 L65.8,316 L65.8,321.6 L68.8,321.6 L68.8,329.1 L72.4,329.1 L72.4,333.2 L74.8,333.2 L74.8,336.6 L79.5,336.6 L79.5,339.8 L80.6,339.8 L80.6,341.2 L81.2,341.2 L81.2,344.6 L85.8,344.6 L85.8,348.7 L119.8,348.7 L119.8,352.7 L126.7,352.7 L126.7,356.7 L130.2,356.7 L130.2,360.5 L177.7,360.5 L177.7,375.3 L211.3,375.3" fill="none" stroke="#2d4b82" stroke-width="1.5" stroke-linejoin="miter"/>
<path d="M49.8,287.59999999999997V292.8M47.199999999999996,290.2H52.4 M51.3,287.59999999999997V292.8M48.699999999999996,290.2H53.9 M54.2,290.79999999999995V296.0M51.6,293.4H56.800000000000004 M60.3,305.2V310.40000000000003M57.699999999999996,307.8H62.9 M66.9,319.0V324.20000000000005M64.30000000000001,321.6H69.5 M68.6,319.0V324.20000000000005M66.0,321.6H71.19999999999999 M119.8,346.09999999999997V351.3M117.2,348.7H122.39999999999999 M129.6,354.09999999999997V359.3M127.0,356.7H132.2 M139.3,357.9V363.1M136.70000000000002,360.5H141.9 M142.3,357.9V363.1M139.70000000000002,360.5H144.9 M152.8,357.9V363.1M150.20000000000002,360.5H155.4 M156.1,357.9V363.1M153.5,360.5H158.7 M159.5,357.9V363.1M156.9,360.5H162.1 M161.5,357.9V363.1M158.9,360.5H164.1 M163.5,357.9V363.1M160.9,360.5H166.1 M166.2,357.9V363.1M163.6,360.5H168.79999999999998 M169,357.9V363.1M166.4,360.5H171.6 M171,357.9V363.1M168.4,360.5H173.6 M173,357.9V363.1M170.4,360.5H175.6 M178.7,372.7V377.90000000000003M176.1,375.3H181.29999999999998 M182.3,372.7V377.90000000000003M179.70000000000002,375.3H184.9 M186.4,372.7V377.90000000000003M183.8,375.3H189.0 M194.4,372.7V377.90000000000003M191.8,375.3H197.0 M209,372.7V377.90000000000003M206.4,375.3H211.6" fill="none" stroke="#2d4b82" stroke-width="1.5"/>
<path d="M307.2,450 L309.3,450 L309.3,446.3 L315.7,446.3 L315.7,439.4 L317,439.4 L317,435.6 L320.3,435.6 L320.3,432.5 L320.9,432.5 L320.9,427.3 L322.6,427.3 L322.6,421 L324.3,421 L324.3,416.9 L325.5,416.9 L325.5,412.9 L330.7,412.9 L330.7,409.4 L334.8,409.4 L334.8,406 L337,406 L337,401.9 L341,401.9 L341,398.3 L378.5,398.3 L378.5,393.9 L381.6,393.9 L381.6,390.1 L454.6,390.1" fill="none" stroke="#2d4b82" stroke-width="1.5" stroke-linejoin="miter"/>
<path d="M307.2,450 L315.7,450 L315.7,448 L316.5,448 L316.5,444.6 L320.3,444.6 L320.3,441.1 L323.8,441.1 L323.8,438.3 L325.5,438.3 L325.5,434.8 L328.2,434.8 L328.2,428.4 L330.7,428.4 L330.7,422.7 L338.2,422.7 L338.2,416.9 L345.1,416.9 L345.1,413.9 L358.5,413.9 L358.5,410.6 L456,410.6" fill="none" stroke="#b0123c" stroke-width="1.5" stroke-linejoin="miter"/>
<rect x="0" y="0" width="520" height="1" fill="#000"/><rect x="0" y="1" width="520" height="1" fill="rgba(0,0,0,0.18)"/>
<rect x="0" y="0" width="1" height="520" fill="#000"/><rect x="1" y="0" width="1" height="520" fill="rgba(0,0,0,0.2)"/>
<rect x="519" y="0" width="1" height="520" fill="#000"/><rect x="518" y="0" width="1" height="520" fill="rgba(0,0,0,0.55)"/>
<rect x="0" y="519" width="520" height="1" fill="#000"/><rect x="0" y="518" width="520" height="1" fill="rgba(0,0,0,0.55)"/>
</svg></body></html>
